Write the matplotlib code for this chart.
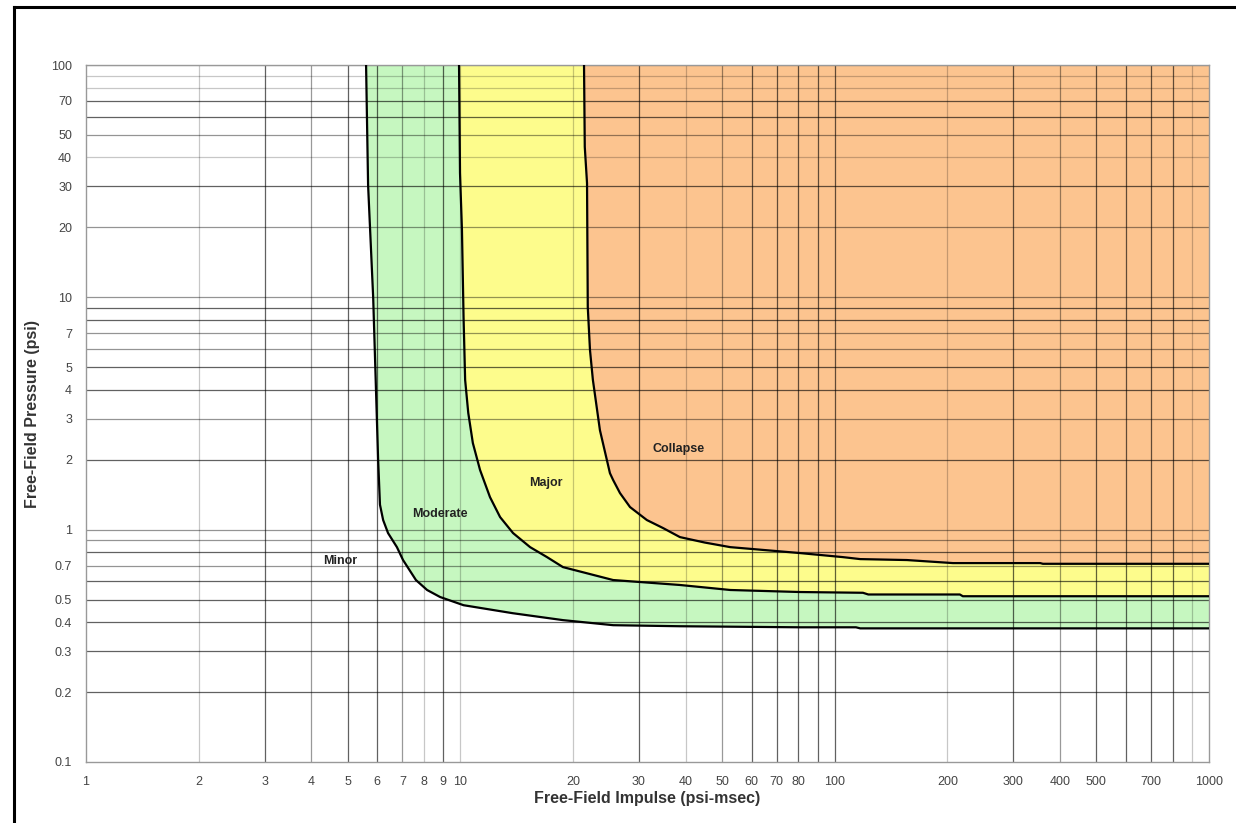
#!/usr/bin/env python3
"""
Blast damage zones: free-field pressure vs impulse (log-log).
"""

import matplotlib
matplotlib.use("Agg")
import matplotlib.pyplot as plt
from matplotlib.lines import Line2D


# -----------------------------
# Data
# -----------------------------
# Minor / Moderate boundary
minor_x = [5.60, 5.67, 5.85, 6.03, 6.10, 6.22, 6.41, 6.77, 7.03, 7.61, 8.15, 8.83, 10.2, 13.8, 18.8, 25.6, 38.6, 80.8, 114, 117, 1000]
minor_y = [100, 30.4, 10.0, 2.01, 1.28, 1.10, 0.967, 0.841, 0.74, 0.607, 0.55, 0.513, 0.473, 0.437, 0.408, 0.388, 0.384, 0.380, 0.380, 0.376, 0.376]

# Moderate / Major boundary
moderate_x = [9.92, 9.98, 10.1, 10.2, 10.3, 10.5, 10.8, 11.29, 12.0, 12.77, 13.83, 15.36, 17.04, 18.8, 25.6, 38.6, 52.6, 80.8, 119, 123, 216, 220, 1000]
moderate_y = [100, 34.3, 19.5, 8.23, 4.41, 3.18, 2.36, 1.806, 1.381, 1.133, 0.967, 0.841, 0.762, 0.69, 0.607, 0.578, 0.55, 0.539, 0.535, 0.526, 0.526, 0.517, 0.517]

# Major / Collapse boundary
major_x = [21.4, 21.5, 21.8, 21.9, 22.2, 22.6, 23.6, 25.1, 25.6, 26.7, 28.4, 31.5, 34.8, 38.6, 45.0, 52.6, 80.8, 105, 117, 156, 207, 354, 360, 1000]
major_y = [100, 44.4, 31.0, 9.08, 5.93, 4.41, 2.68, 1.75, 1.635, 1.437, 1.251, 1.10, 1.016, 0.929, 0.88, 0.841, 0.793, 0.762, 0.747, 0.740, 0.718, 0.718, 0.713, 0.713]

zone_names = ["Minor", "Moderate", "Major", "Collapse"]
zone_label_x = [4.77, 8.83, 16.9, 38.2]
zone_label_y = [0.732, 1.167, 1.588, 2.22]

x_ticks = [1, 2, 3, 4, 5, 6, 7, 8, 9, 10, 20, 30, 40, 50, 60, 70, 80, 100,
           200, 300, 400, 500, 700, 1000]
y_ticks = [0.1, 0.2, 0.3, 0.4, 0.5, 0.7, 1, 2, 3, 4, 5, 7, 10, 20, 30, 40, 50, 70, 100]

# gridline strength (style only)
x_light = [2, 8, 10, 20, 40, 200, 900]
x_medium = [4, 7, 50, 400]
y_light = [100, 90, 80, 40]
y_medium = [50, 20, 10, 7, 6, 3, 1, 0.9, 0.7]


def main():
    plt.rcParams["font.family"] = ["Liberation Sans", "DejaVu Sans"]

    fig = plt.figure(figsize=(12.36, 8.23), dpi=100)
    ax = fig.add_axes([86 / 1236, (823 - 762) / 823, (1209 - 86) / 1236, (762 - 65) / 823])

    ax.set_xscale("log")
    ax.set_yscale("log")
    ax.set_xlim(1, 1000)
    ax.set_ylim(0.1, 100)

    # filled zones
    green = (list(minor_x) + moderate_x[::-1], list(minor_y) + moderate_y[::-1])
    yellow = (list(moderate_x) + major_x[::-1], list(moderate_y) + major_y[::-1])
    orange = (list(major_x) + [1000], list(major_y) + [100])
    ax.fill(*green, color="#c6f7c0", lw=0, zorder=1)
    ax.fill(*yellow, color="#fdfc8c", lw=0, zorder=1)
    ax.fill(*orange, color="#fcc48f", lw=0, zorder=1)

    # grid lines
    for d in [1, 10, 100]:
        for m in range(1, 10):
            v = d * m
            if v <= 1 or v >= 1000:
                continue
            a = 0.62
            if v in x_light:
                a = 0.22
            elif v in x_medium:
                a = 0.4
            ax.axvline(v, color="black", alpha=a, lw=0.9, zorder=2)
    for d in [0.1, 1, 10]:
        for m in range(1, 10):
            v = round(d * m, 3)
            if v <= 0.1:
                continue
            a = 0.62
            if v in y_light:
                a = 0.22
            elif v in y_medium:
                a = 0.42
            ax.axhline(v, color="black", alpha=a, lw=0.9, zorder=2)
    ax.axhline(100, color="black", alpha=0.25, lw=0.9, zorder=2)

    # boundaries
    for xs, ys in [(minor_x, minor_y), (moderate_x, moderate_y), (major_x, major_y)]:
        ax.plot(xs, ys, color="black", lw=1.6, zorder=3, solid_joinstyle="round")

    for name, lx, ly in zip(zone_names, zone_label_x, zone_label_y):
        ax.text(lx, ly, name, ha="center", va="center", fontsize=9,
                fontweight="bold", color="#222222", zorder=4)

    ax.set_xticks(x_ticks)
    ax.set_xticklabels([str(t) for t in x_ticks])
    ax.set_yticks(y_ticks)
    ax.set_yticklabels([f"{t:g}" for t in y_ticks])
    ax.minorticks_off()
    ax.tick_params(length=0, labelsize=9, labelcolor="#444444", pad=10)

    for s in ax.spines.values():
        s.set_color("#999999")
        s.set_linewidth(1.0)

    ax.set_xlabel("Free-Field Impulse (psi-msec)", fontsize=11.5, fontweight="bold",
                  color="#333333", labelpad=2)
    ax.set_ylabel("Free-Field Pressure (psi)", fontsize=11.5, fontweight="bold",
                  color="#333333", labelpad=8)

    # outer frame (top and left)
    fig.add_artist(Line2D([14 / 1236, 14 / 1236], [0, 1 - 7 / 823], color="black",
                          lw=2.2, transform=fig.transFigure))
    fig.add_artist(Line2D([14 / 1236, 1], [1 - 7 / 823, 1 - 7 / 823], color="black",
                          lw=2.2, transform=fig.transFigure))

    fig.savefig("out.png", dpi=100)
    plt.close(fig)


if __name__ == "__main__":
    main()
